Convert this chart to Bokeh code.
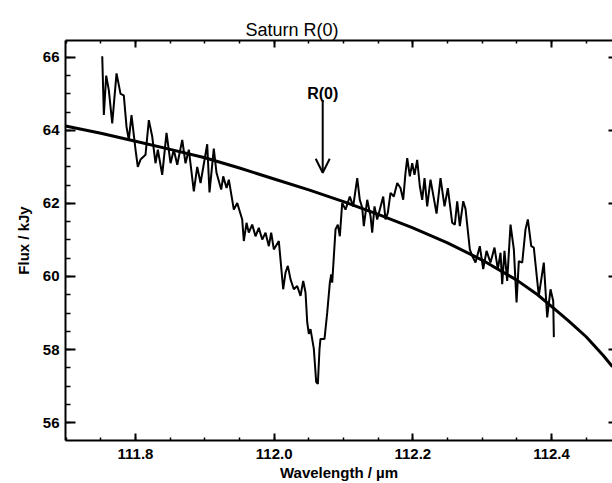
from bokeh.plotting import figure
from bokeh.models import (LinearAxis, Range1d, Arrow, OpenHead, Label, SingleIntervalTicker,
                          PrintfTickFormatter, CustomJSTickFormatter)
from bokeh.embed import file_html
from bokeh.resources import INLINE

# ---- data ----
title_text = "Saturn R(0)"
x_label = "Wavelength / \u00b5m"
y_label = "Flux / kJy"
line_label = "R(0)"
line_wavelength = 112.070
arrow_top = 64.83
arrow_tip = 62.84
label_y = 65.02

spec_wl = [111.7520, 111.7543, 111.7577, 111.7615, 111.7664, 111.7726, 111.7784, 111.7831,
           111.7870, 111.7903, 111.7942, 111.8000, 111.8033, 111.8072, 111.8144, 111.8192,
           111.8241, 111.8288, 111.8322, 111.8385, 111.8447, 111.8505, 111.8552, 111.8602,
           111.8674, 111.8721, 111.8769, 111.8841, 111.8890, 111.8938, 111.9034, 111.9067,
           111.9129, 111.9168, 111.9236, 111.9265, 111.9313, 111.9346, 111.9418, 111.9467,
           111.9539, 111.9562, 111.9601, 111.9634, 111.9683, 111.9731, 111.9778, 111.9828,
           111.9875, 111.9923, 111.9957, 111.9995, 112.0067, 112.0091, 112.0130, 112.0164,
           112.0197, 112.0236, 112.0283, 112.0332, 112.0380, 112.0419, 112.0452, 112.0477,
           112.0500, 112.0524, 112.0572, 112.0606, 112.0630, 112.0654, 112.0668, 112.0726,
           112.0765, 112.0803, 112.0823, 112.0837, 112.0885, 112.0918, 112.0947, 112.0981,
           112.1029, 112.1091, 112.1140, 112.1198, 112.1235, 112.1270, 112.1293, 112.1342,
           112.1390, 112.1414, 112.1447, 112.1486, 112.1573, 112.1606, 112.1639, 112.1678,
           112.1726, 112.1775, 112.1822, 112.1861, 112.1894, 112.1919, 112.1957, 112.1991,
           112.2024, 112.2063, 112.2101, 112.2135, 112.2169, 112.2207, 112.2255, 112.2342,
           112.2399, 112.2457, 112.2505, 112.2568, 112.2606, 112.2640, 112.2678, 112.2727,
           112.2760, 112.2822, 112.2857, 112.2904, 112.2966, 112.3015, 112.3063, 112.3120,
           112.3178, 112.3226, 112.3265, 112.3289, 112.3322, 112.3361, 112.3409, 112.3457,
           112.3496, 112.3529, 112.3578, 112.3625, 112.3659, 112.3708, 112.3745, 112.3817,
           112.3889, 112.3938, 112.3986, 112.4025, 112.4034]
spec_flux = [66.03, 64.42, 65.50, 65.10, 64.19, 65.56, 65.00, 64.96,
             64.10, 63.74, 64.42, 63.47, 63.00, 63.20, 63.33, 64.28,
             63.83, 63.10, 63.47, 62.78, 63.93, 63.10, 63.47, 63.06,
             63.74, 63.10, 63.47, 62.33, 63.00, 62.56, 63.62, 62.30,
             63.50, 62.84, 62.38, 62.74, 62.42, 62.65, 61.83, 62.01,
             61.56, 60.97, 61.47, 61.20, 61.42, 61.10, 61.33, 61.01,
             61.20, 60.83, 61.20, 60.74, 60.97, 60.47, 59.65, 60.11,
             60.29, 59.92, 59.65, 59.74, 59.47, 59.88, 59.56, 58.74,
             58.43, 58.56, 58.02, 57.11, 57.06, 58.02, 58.29, 58.29,
             59.01, 59.83, 60.06, 59.83, 61.29, 61.42, 61.10, 62.01,
             61.83, 62.19, 61.92, 62.69, 62.10, 61.88, 61.38, 62.10,
             61.65, 61.20, 61.92, 61.56, 62.19, 61.56, 61.74, 62.29,
             62.19, 62.56, 62.42, 62.10, 62.83, 63.24, 62.74, 63.10,
             62.78, 63.19, 62.47, 62.10, 62.69, 61.92, 62.65, 61.72,
             62.69, 61.92, 62.42, 61.47, 61.42, 62.06, 61.38, 62.06,
             61.85, 60.74, 60.56, 60.38, 60.83, 60.20, 60.70, 60.38,
             60.79, 60.20, 60.65, 59.79, 60.70, 59.88, 61.42, 60.74,
             59.29, 60.42, 60.38, 61.29, 61.56, 60.83, 60.79, 59.47,
             60.38, 58.88, 59.65, 59.33, 58.34]

fit_wl = [111.699, 111.750, 111.800, 111.850, 111.900, 111.950, 112.000, 112.050,
          112.100, 112.150, 112.200, 112.250, 112.300, 112.350, 112.380, 112.400,
          112.425, 112.450, 112.475, 112.488]
fit_flux = [64.12, 63.92, 63.70, 63.48, 63.25, 62.97, 62.67, 62.37,
            62.05, 61.70, 61.33, 60.92, 60.45, 59.90, 59.50, 59.18,
            58.78, 58.35, 57.83, 57.53]

x_start, x_end = 111.699, 112.488
y_start, y_end = 55.51, 66.46

FONT = "Liberation Sans"

p = figure(width=612, height=483, x_range=Range1d(x_start, x_end), y_range=Range1d(y_start, y_end),
           output_backend="svg", toolbar_location=None,
           min_border_left=65, min_border_right=0, min_border_top=40, min_border_bottom=41)
p.background_fill_color = "white"
p.border_fill_color = "white"
p.outline_line_color = None
p.xgrid.visible = False
p.ygrid.visible = False

p.title.text = title_text
p.title.text_font = FONT
p.title.text_font_size = "18px"
p.title.text_font_style = "normal"
p.title.text_color = "black"
p.title.align = "left"
p.title.offset = 180
p.title.standoff = 2

xt = SingleIntervalTicker(interval=0.2, num_minor_ticks=4)
yt = SingleIntervalTicker(interval=2, num_minor_ticks=4)
blank = CustomJSTickFormatter(code="return ''")

def style(ax, tick_in, minor_in):
    ax.axis_line_width = 2
    ax.axis_line_color = "black"
    ax.major_tick_line_width = 2
    ax.major_tick_line_color = "black"
    ax.minor_tick_line_width = 1.5
    ax.minor_tick_line_color = "black"
    ax.major_tick_in = tick_in
    ax.major_tick_out = 0
    ax.minor_tick_in = minor_in
    ax.minor_tick_out = 0
    ax.major_label_text_font = FONT
    ax.major_label_text_font_style = "bold"
    ax.major_label_text_font_size = "15px"
    ax.major_label_text_color = "black"
    ax.axis_label_text_font = FONT
    ax.axis_label_text_font_style = "bold"
    ax.axis_label_text_font_size = "15px"
    ax.axis_label_text_color = "black"

xa = p.xaxis[0]
xa.ticker = xt
xa.formatter = PrintfTickFormatter(format="%.1f")
style(xa, 7, 3)
xa.axis_label = x_label
xa.major_label_standoff = 8
xa.axis_label_standoff = 2

ya = p.yaxis[0]
ya.ticker = yt
ya.formatter = PrintfTickFormatter(format="%d")
style(ya, 10, 5)
ya.axis_label = y_label
ya.major_label_standoff = 6
ya.axis_label_standoff = 8

top = LinearAxis(ticker=xt, formatter=blank)
style(top, 7, 3)
top.major_label_standoff = 0
p.add_layout(top, "above")

right = LinearAxis(ticker=yt, formatter=blank)
style(right, 4, 0)
right.axis_line_color = None
right.minor_tick_line_color = None
right.major_label_standoff = 0
p.add_layout(right, "right")

p.line(fit_wl, fit_flux, line_color="black", line_width=3)
p.line(spec_wl, spec_flux, line_color="black", line_width=2)

p.add_layout(Arrow(end=OpenHead(size=14, line_width=2, line_color="black"),
                   x_start=line_wavelength, y_start=arrow_top,
                   x_end=line_wavelength, y_end=arrow_tip,
                   line_width=2, line_color="black"))
p.add_layout(Label(x=line_wavelength, y=label_y, text=line_label, text_align="center",
                   text_baseline="alphabetic", text_font=FONT, text_font_style="bold",
                   text_font_size="16px", text_color="black"))

open("out.html", "w").write(file_html(p, INLINE))
